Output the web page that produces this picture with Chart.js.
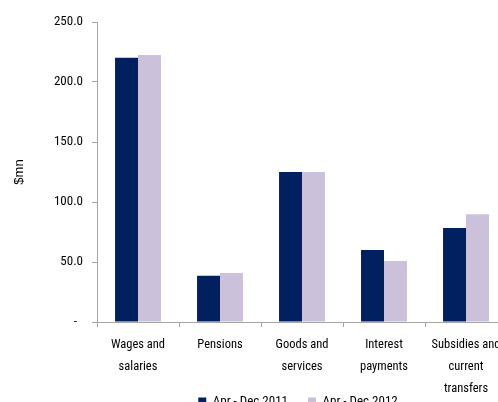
<!DOCTYPE html>
<html>
<head>
<meta charset="utf-8">
<script src="https://cdn.jsdelivr.net/npm/chart.js@4"></script>
<style>
  html, body { margin: 0; padding: 0; background: #fff; overflow: hidden; }
  #wrap { position: relative; width: 510px; height: 443px; }
</style>
</head>
<body>
<div id="wrap"><canvas id="chart"></canvas></div>
<script>
const categories = [
  ['Wages and', 'salaries'],
  ['Pensions'],
  ['Goods and', 'services'],
  ['Interest', 'payments'],
  ['Subsidies and', 'current', 'transfers']
];
const seriesNames = ['Apr - Dec 2011', 'Apr - Dec 2012'];
const values2011 = [220.3, 38.6, 125.0, 60.0, 78.3];
const values2012 = [222.5, 40.8, 125.0, 50.8, 89.7];
const yTicks = [0, 50, 100, 150, 200, 250];

const narrow = '"Roboto Condensed", "Liberation Sans", Arial, sans-serif';
const axisGray = '#a6a6a6';

// the original legend sits up against the category labels, so pull it up
const legendLift = {
  id: 'legendLift',
  afterLayout(chart) {
    const lg = chart.legend;
    if (!lg) return;
    lg.top -= 25;
    lg.bottom -= 25;
    lg.left -= 4;
    lg.right -= 4;
  }
};

const ctx = document.getElementById('chart').getContext('2d');
new Chart(ctx, {
  type: 'bar',
  data: {
    labels: categories,
    datasets: [
      {
        label: seriesNames[0],
        data: values2011,
        backgroundColor: '#002060'
      },
      {
        label: seriesNames[1],
        data: values2012,
        backgroundColor: '#ccc1da'
      }
    ]
  },
  plugins: [legendLift],
  options: {
    responsive: true,
    maintainAspectRatio: false,
    animation: false,
    datasets: {
      bar: { barPercentage: 1, categoryPercentage: 0.56 }
    },
    layout: { padding: { top: 22, right: 3, left: 0, bottom: 0 } },
    plugins: {
      tooltip: { enabled: false },
      legend: {
        position: 'bottom',
        fullSize: false,
        labels: {
          boxWidth: 8,
          boxHeight: 8,
          padding: 20,
          color: '#000',
          font: { family: narrow, size: 13 }
        }
      }
    },
    scales: {
      x: {
        grid: {
          display: true,
          drawOnChartArea: false,
          drawTicks: true,
          tickLength: 5,
          color: axisGray,
          offset: true
        },
        border: { color: axisGray, width: 1 },
        ticks: {
          color: '#000',
          padding: 7,
          maxRotation: 0,
          autoSkip: false,
          font: { family: narrow, size: 12.5, lineHeight: 1.75 }
        },
        afterFit: (scale) => { scale.height = 78; }
      },
      y: {
        min: 0,
        max: 250,
        afterBuildTicks: (scale) => { scale.ticks = yTicks.map(v => ({ value: v })); },
        grid: {
          display: true,
          drawOnChartArea: false,
          drawTicks: true,
          tickLength: 5,
          color: axisGray
        },
        border: { color: axisGray, width: 1 },
        ticks: {
          color: '#000',
          padding: 9,
          font: { family: narrow, size: 13 },
          callback: (v) => v === 0 ? '-  ' : v.toFixed(1)
        },
        title: {
          display: true,
          text: '$mn',
          color: '#000',
          padding: { top: 12, bottom: 0 },
          font: { family: '"Liberation Sans", Arial, sans-serif', size: 13 }
        },
        afterFit: (scale) => { scale.width = 97; }
      }
    }
  }
});
</script>
</body>
</html>
